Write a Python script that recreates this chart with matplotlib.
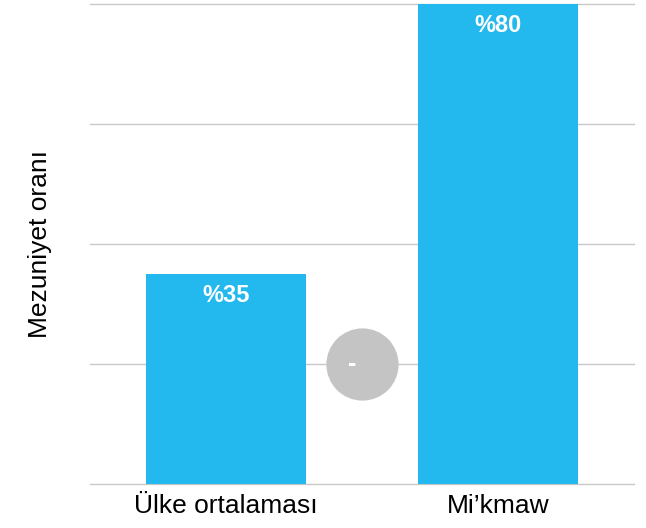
import matplotlib.pyplot as plt

# Datos
categorias = ['Ülke ortalaması', 'Mi’kmaw']
valores = [35, 80]
etiquetas = ['%35', '%80']
fark_x = 0.5
fark_y = 20
fark_texto = '-'

plt.rcParams['font.family'] = ['Liberation Sans', 'DejaVu Sans']

fig = plt.figure(figsize=(6.46, 5.28), dpi=100)
ax = fig.add_axes([90 / 646, 44 / 528, 544 / 646, 480 / 528])

x = list(range(len(categorias)))
ax.bar(x, valores, width=0.585, color='#23b9ef', zorder=2)
for xi, v, t in zip(x, valores, etiquetas):
    ax.text(xi, v - 1.6, t, ha='center', va='top', color='white',
            fontsize=17, fontweight='bold', zorder=3)

# circulo gris con la diferencia
ax.scatter([fark_x], [fark_y], s=52**2, color='#c4c4c4', zorder=3, linewidths=0)
ax.text(fark_x - 0.037, fark_y, fark_texto, ha='center', va='center', color='white',
        fontsize=18, fontweight='bold', zorder=4)

ax.set_xlim(-0.5, 1.5)
ax.set_ylim(0, 80)
ax.set_yticks([0, 20, 40, 60, 80])
ax.set_yticklabels([])
ax.set_xticks(x)
ax.set_xticklabels(categorias, fontsize=19)
ax.tick_params(axis='both', length=0)
ax.tick_params(axis='x', pad=7)
ax.grid(True, axis='y', color='#c8c8c8', linewidth=1, zorder=0)
for gl in ax.get_ygridlines():
    gl.set_clip_on(False)
for s in ax.spines.values():
    s.set_visible(False)
ax.set_ylabel('Mezuniyet oranı', fontsize=19, labelpad=24)

plt.savefig('out.png', dpi=100)
